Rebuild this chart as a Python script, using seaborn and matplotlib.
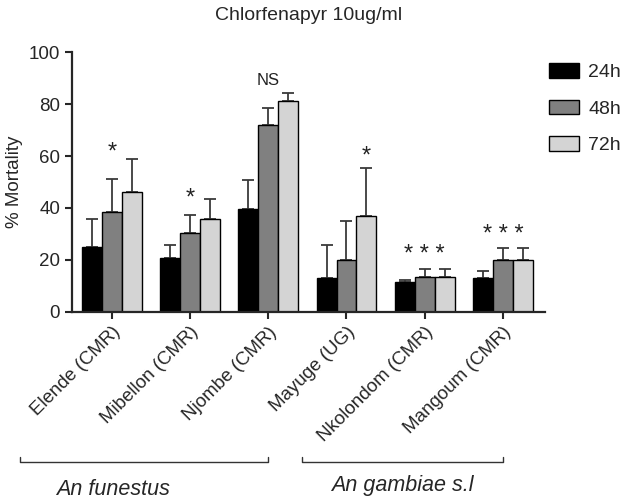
import pandas as pd
import numpy as np
import matplotlib
matplotlib.use("Agg")
import matplotlib.pyplot as plt
import seaborn as sns

# Data
sites = ["Elende (CMR)", "Mibellon (CMR)", "Njombe (CMR)",
         "Mayuge (UG)", "Nkolondom (CMR)", "Mangoum (CMR)"]
times = ["24h", "48h", "72h"]
mort_24 = [25.1, 20.7, 39.6, 12.9, 11.4, 12.9]
mort_48 = [38.4, 30.2, 71.9, 19.8, 13.5, 19.8]
mort_72 = [46.0, 35.6, 81.4, 36.8, 13.5, 19.8]
err_24 = [10.6, 5.0, 11.0, 12.7, 0.8, 2.9]
err_48 = [12.9, 6.9, 6.5, 15.0, 3.1, 4.8]
err_72 = [12.9, 7.7, 3.0, 18.7, 3.1, 4.8]

# significance marks: label, site, time (None = group centre), height
sig_labels = ["*", "*", "NS", "*", "* * *", "* * *"]
sig_sites = sites
sig_times = ["48h", "48h", "48h", "72h", None, None]
sig_y = [61.5, 43.5, 89.0, 60.0, 22.0, 29.5]

groups = ["An funestus", "An gambiae s.l"]
group_ends = [("Elende (CMR)", "Njombe (CMR)"), ("Mayuge (UG)", "Mangoum (CMR)")]

colors = ["#000000", "#808080", "#d4d4d4"]

df = pd.DataFrame({
    "site": sites * 3,
    "time": np.repeat(times, len(sites)),
    "mortality": mort_24 + mort_48 + mort_72,
    "err": err_24 + err_48 + err_72,
})

sns.set_style("ticks")
plt.rcParams["font.family"] = ["Liberation Sans", "DejaVu Sans"]

fig = plt.figure(figsize=(6.29, 5.01), dpi=100)
ax = fig.add_axes([0.1145, 0.378, 0.7515, 0.5175])

sns.barplot(data=df, x="site", y="mortality", hue="time", order=sites,
            hue_order=times, palette=colors, width=0.765, errorbar=None,
            edgecolor="black", linewidth=1.0, saturation=1, ax=ax, zorder=2)

# error bars (upper only), positions taken from the drawn bars
centers = {}
for t, cont in zip(times, ax.containers):
    sub = df[df["time"] == t].set_index("site").loc[sites]
    xs = [p.get_x() + p.get_width() / 2 for p in cont.patches]
    for s, x in zip(sites, xs):
        centers[(s, t)] = x
    ax.errorbar(xs, sub["mortality"], yerr=[np.zeros(len(xs)), sub["err"]],
                fmt="none", ecolor="#3a3a3a", elinewidth=1.3, capsize=4.5,
                capthick=1.3, zorder=1)

for lab, s, t, y in zip(sig_labels, sig_sites, sig_times, sig_y):
    x = centers[(s, t)] if t else sites.index(s)
    fs = 12 if lab == "NS" else 17
    ax.text(x, y, lab, ha="center", va="center", fontsize=fs, color="#222222")

ax.set_ylim(0, 100)
ax.set_xlim(-0.51, len(sites) - 0.465)
ax.set_yticks(range(0, 101, 20))
ax.set_xlabel("")
ax.set_ylabel("% Mortality", fontsize=13.5)
ax.tick_params(axis="y", labelsize=13.5, length=5, width=1.5)
ax.tick_params(axis="x", labelsize=13.5, length=5, width=1.5)
plt.setp(ax.get_xticklabels(), rotation=45, ha="right", rotation_mode="anchor")
for sp in ["left", "bottom"]:
    ax.spines[sp].set_linewidth(1.6)
sns.despine(ax=ax)

ax.set_title("Chlorfenapyr 10ug/ml", fontsize=14, pad=23)

# legend
handles, labels = ax.get_legend_handles_labels()
ax.legend(handles, labels, loc="upper left", bbox_to_anchor=(0.971, 1.027),
          frameon=False, fontsize=14, handlelength=1.55, handleheight=0.8,
          labelspacing=0.95, handletextpad=0.5)

# species brackets below the axis labels
trans = ax.get_xaxis_transform()
xstart = [-1.18, 2.43]
for g, (a, b), x0 in zip(groups, group_ends, xstart):
    x1 = sites.index(b)
    ax.plot([x0, x0, x1, x1], [-0.56, -0.579, -0.579, -0.56], color="#333333",
            lw=1.0, transform=trans, clip_on=False)
    if g == groups[0]:
        ax.text(-0.72, -0.685, g, style="italic", fontsize=15.5, ha="left",
                va="center", transform=trans)
    else:
        ax.text((x0 + x1) / 2, -0.67, g, style="italic", fontsize=15.5,
                ha="center", va="center", transform=trans)

fig.savefig("out.png", dpi=100)
